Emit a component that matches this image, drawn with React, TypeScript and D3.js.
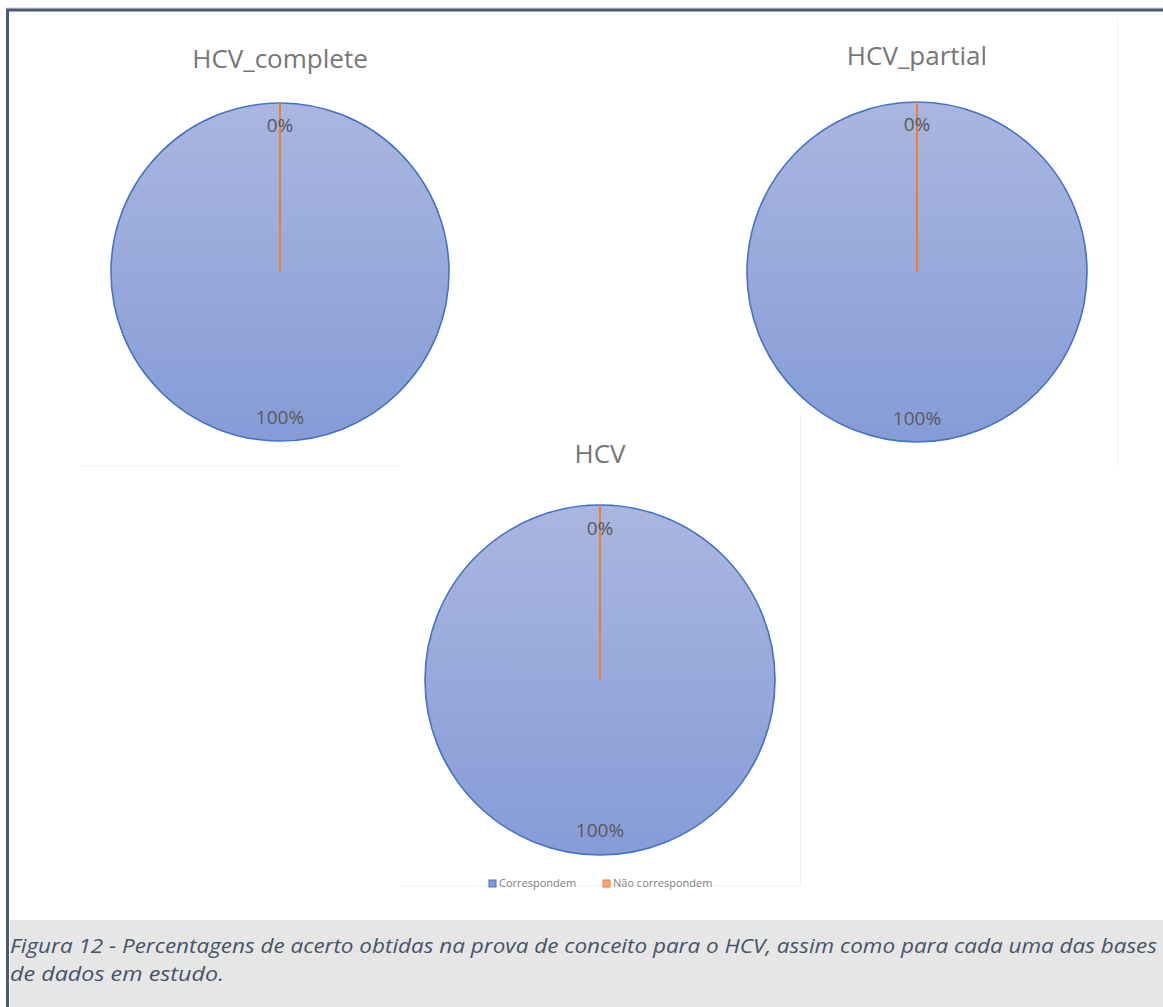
import React from "react";
import * as d3 from "d3";

// Share of matching vs. non-matching records per database
const categories = ["Correspondem", "Não correspondem"];
const chartTitles = ["HCV_complete", "HCV_partial", "HCV"];
const hcvCompleteValues = [100, 0];
const hcvPartialValues = [100, 0];
const hcvValues = [100, 0];
const caption = [
  "Figura 12 - Percentagens de acerto obtidas na prova de conceito para o HCV, assim como para cada uma das bases",
  "de dados em estudo.",
];
const captionWidths = [1147, 214];

const W = 1163;
const H = 1007;
const sliceStroke = ["#4472c4", "#ed7d31"];
const legendFill = ["#7f98d6", "#f4a57a"];

type PieSpec = {
  title: string;
  values: number[];
  cx: number;
  cy: number;
  r: number;
  titleY: number;
};

const pies: PieSpec[] = [
  { title: chartTitles[0], values: hcvCompleteValues, cx: 280, cy: 272, r: 169, titleY: 68 },
  { title: chartTitles[1], values: hcvPartialValues, cx: 917, cy: 272, r: 170, titleY: 65 },
  { title: chartTitles[2], values: hcvValues, cx: 600, cy: 680, r: 175, titleY: 463 },
];

const pieGen = d3.pie<number>().sort(null).value((d) => d);
const font = "'Open Sans', 'Noto Sans', sans-serif";

function Pie({ spec }: { spec: PieSpec }) {
  const arcs = pieGen(spec.values);
  const arc = d3.arc<d3.PieArcDatum<number>>().innerRadius(0).outerRadius(spec.r);
  const total = d3.sum(spec.values);
  const fmt = (v: number) => `${Math.round((v / total) * 100)}%`;
  return (
    <g>
      <text
        x={spec.cx}
        y={spec.titleY}
        textAnchor="middle"
        fontFamily={font}
        fontSize={26}
        fill="#767676"
      >
        {spec.title}
      </text>
      <g transform={`translate(${spec.cx},${spec.cy})`}>
        {arcs.map((a, i) => (
          <path
            key={i}
            d={arc(a) || ""}
            fill={`url(#sliceGrad${i})`}
            stroke={sliceStroke[i]}
            strokeWidth={i === 0 ? 1.6 : 2}
          />
        ))}
        {arcs.map((a, i) => {
          // 100% label sits near the bottom, 0% label near the top
          const y = i === 0 ? spec.r * 0.87 : -spec.r * 0.86;
          return (
            <text
              key={`l${i}`}
              x={0}
              y={y}
              textAnchor="middle"
              dominantBaseline="middle"
              fontFamily={font}
              fontSize={19}
              fill="#595959"
            >
              {fmt(a.data)}
            </text>
          );
        })}
      </g>
    </g>
  );
}

export default function App() {
  const legendX = [489, 603];
  return (
    <svg
      width={W}
      height={H}
      style={{ position: "absolute", left: 0, top: 0, display: "block" }}
    >
      <defs>
        <linearGradient id="sliceGrad0" x1="0" y1="0" x2="0" y2="1">
          <stop offset="0%" stopColor="#a9b6df" />
          <stop offset="100%" stopColor="#869cd7" />
        </linearGradient>
        <linearGradient id="sliceGrad1" x1="0" y1="0" x2="0" y2="1">
          <stop offset="0%" stopColor="#f6b48e" />
          <stop offset="100%" stopColor="#f29760" />
        </linearGradient>
      </defs>
      <rect x={0} y={0} width={W} height={H} fill="#ffffff" />

      {/* faint chart-area edges */}
      <g stroke="#f0f0f0" strokeWidth={1} fill="none">
        <line x1={81} y1={466.5} x2={400} y2={466.5} />
        <line x1={1117.5} y1={20} x2={1117.5} y2={467} />
        <line x1={800.5} y1={416} x2={800.5} y2={885} />
        <line x1={400} y1={885.5} x2={800} y2={885.5} />
      </g>

      {pies.map((p, i) => (
        <Pie key={i} spec={p} />
      ))}

      {/* legend */}
      {categories.map((c, i) => (
        <g key={c}>
          <rect
            x={legendX[i]}
            y={880}
            width={7}
            height={7}
            fill={legendFill[i]}
            stroke={sliceStroke[i]}
            strokeWidth={1}
          />
          <text
            x={legendX[i] + 10}
            y={884}
            dominantBaseline="middle"
            fontFamily={font}
            fontSize={11}
            fill="#7f7f7f"
          >
            {c}
          </text>
        </g>
      ))}

      {/* caption box */}
      <rect x={10} y={920} width={W - 10} height={H - 920} fill="#e7e6e6" />
      {caption.map((line, i) => (
        <text
          key={i}
          x={10}
          y={953 + i * 28}
          fontFamily={font}
          fontStyle="italic"
          fontSize={20}
          fill="#44546a"
          textLength={captionWidths[i]}
          lengthAdjust="spacingAndGlyphs"
        >
          {line}
        </text>
      ))}

      {/* frame */}
      <line x1={6} y1={8} x2={W} y2={8} stroke="#c9ccd2" strokeWidth={1} />
      <line x1={6} y1={10} x2={W} y2={10} stroke="#4a5a73" strokeWidth={3} />
      <line x1={7.5} y1={9} x2={7.5} y2={H} stroke="#4a5a73" strokeWidth={3} />
    </svg>
  );
}
